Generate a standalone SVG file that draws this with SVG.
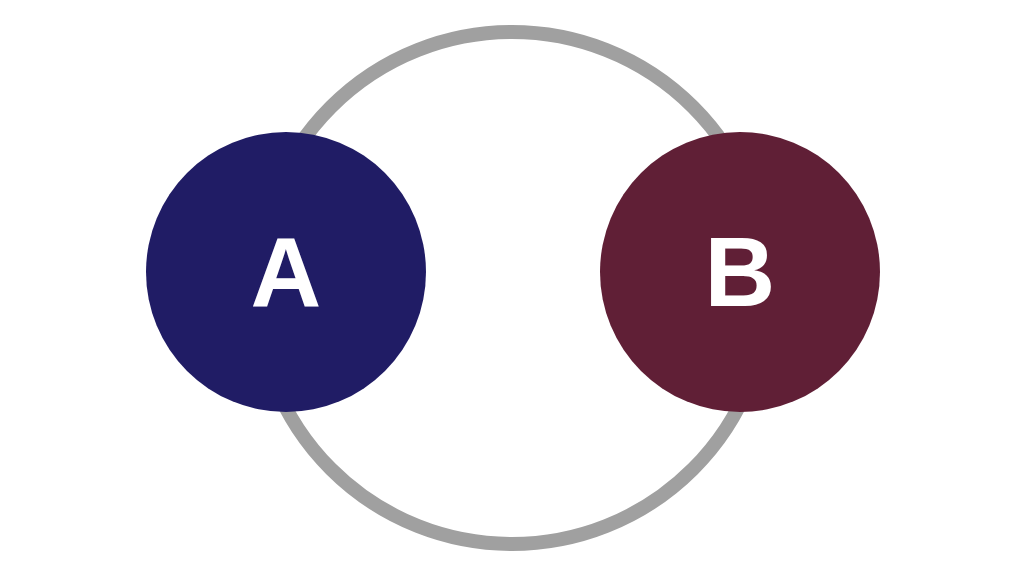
<svg xmlns="http://www.w3.org/2000/svg" width="1024" height="572" viewBox="0 0 1024 572">
<style>
.lbl{font-family:"Liberation Sans",Arial,sans-serif;font-weight:bold;font-size:98px;fill:#ffffff;text-anchor:middle}
</style>
<rect width="1024" height="572" fill="#ffffff"/>
<g id="connectors">
<circle cx="512" cy="288" r="256" fill="none" stroke="#a0a0a0" stroke-width="14"/>
</g>
<g id="nodeA">
<circle cx="286" cy="272" r="140" fill="#201c65"/>
<text class="lbl" x="286" y="306">A</text>
</g>
<g id="nodeB">
<circle cx="740" cy="272" r="140" fill="#601f36"/>
<text class="lbl" x="740" y="306">B</text>
</g>
</svg>
